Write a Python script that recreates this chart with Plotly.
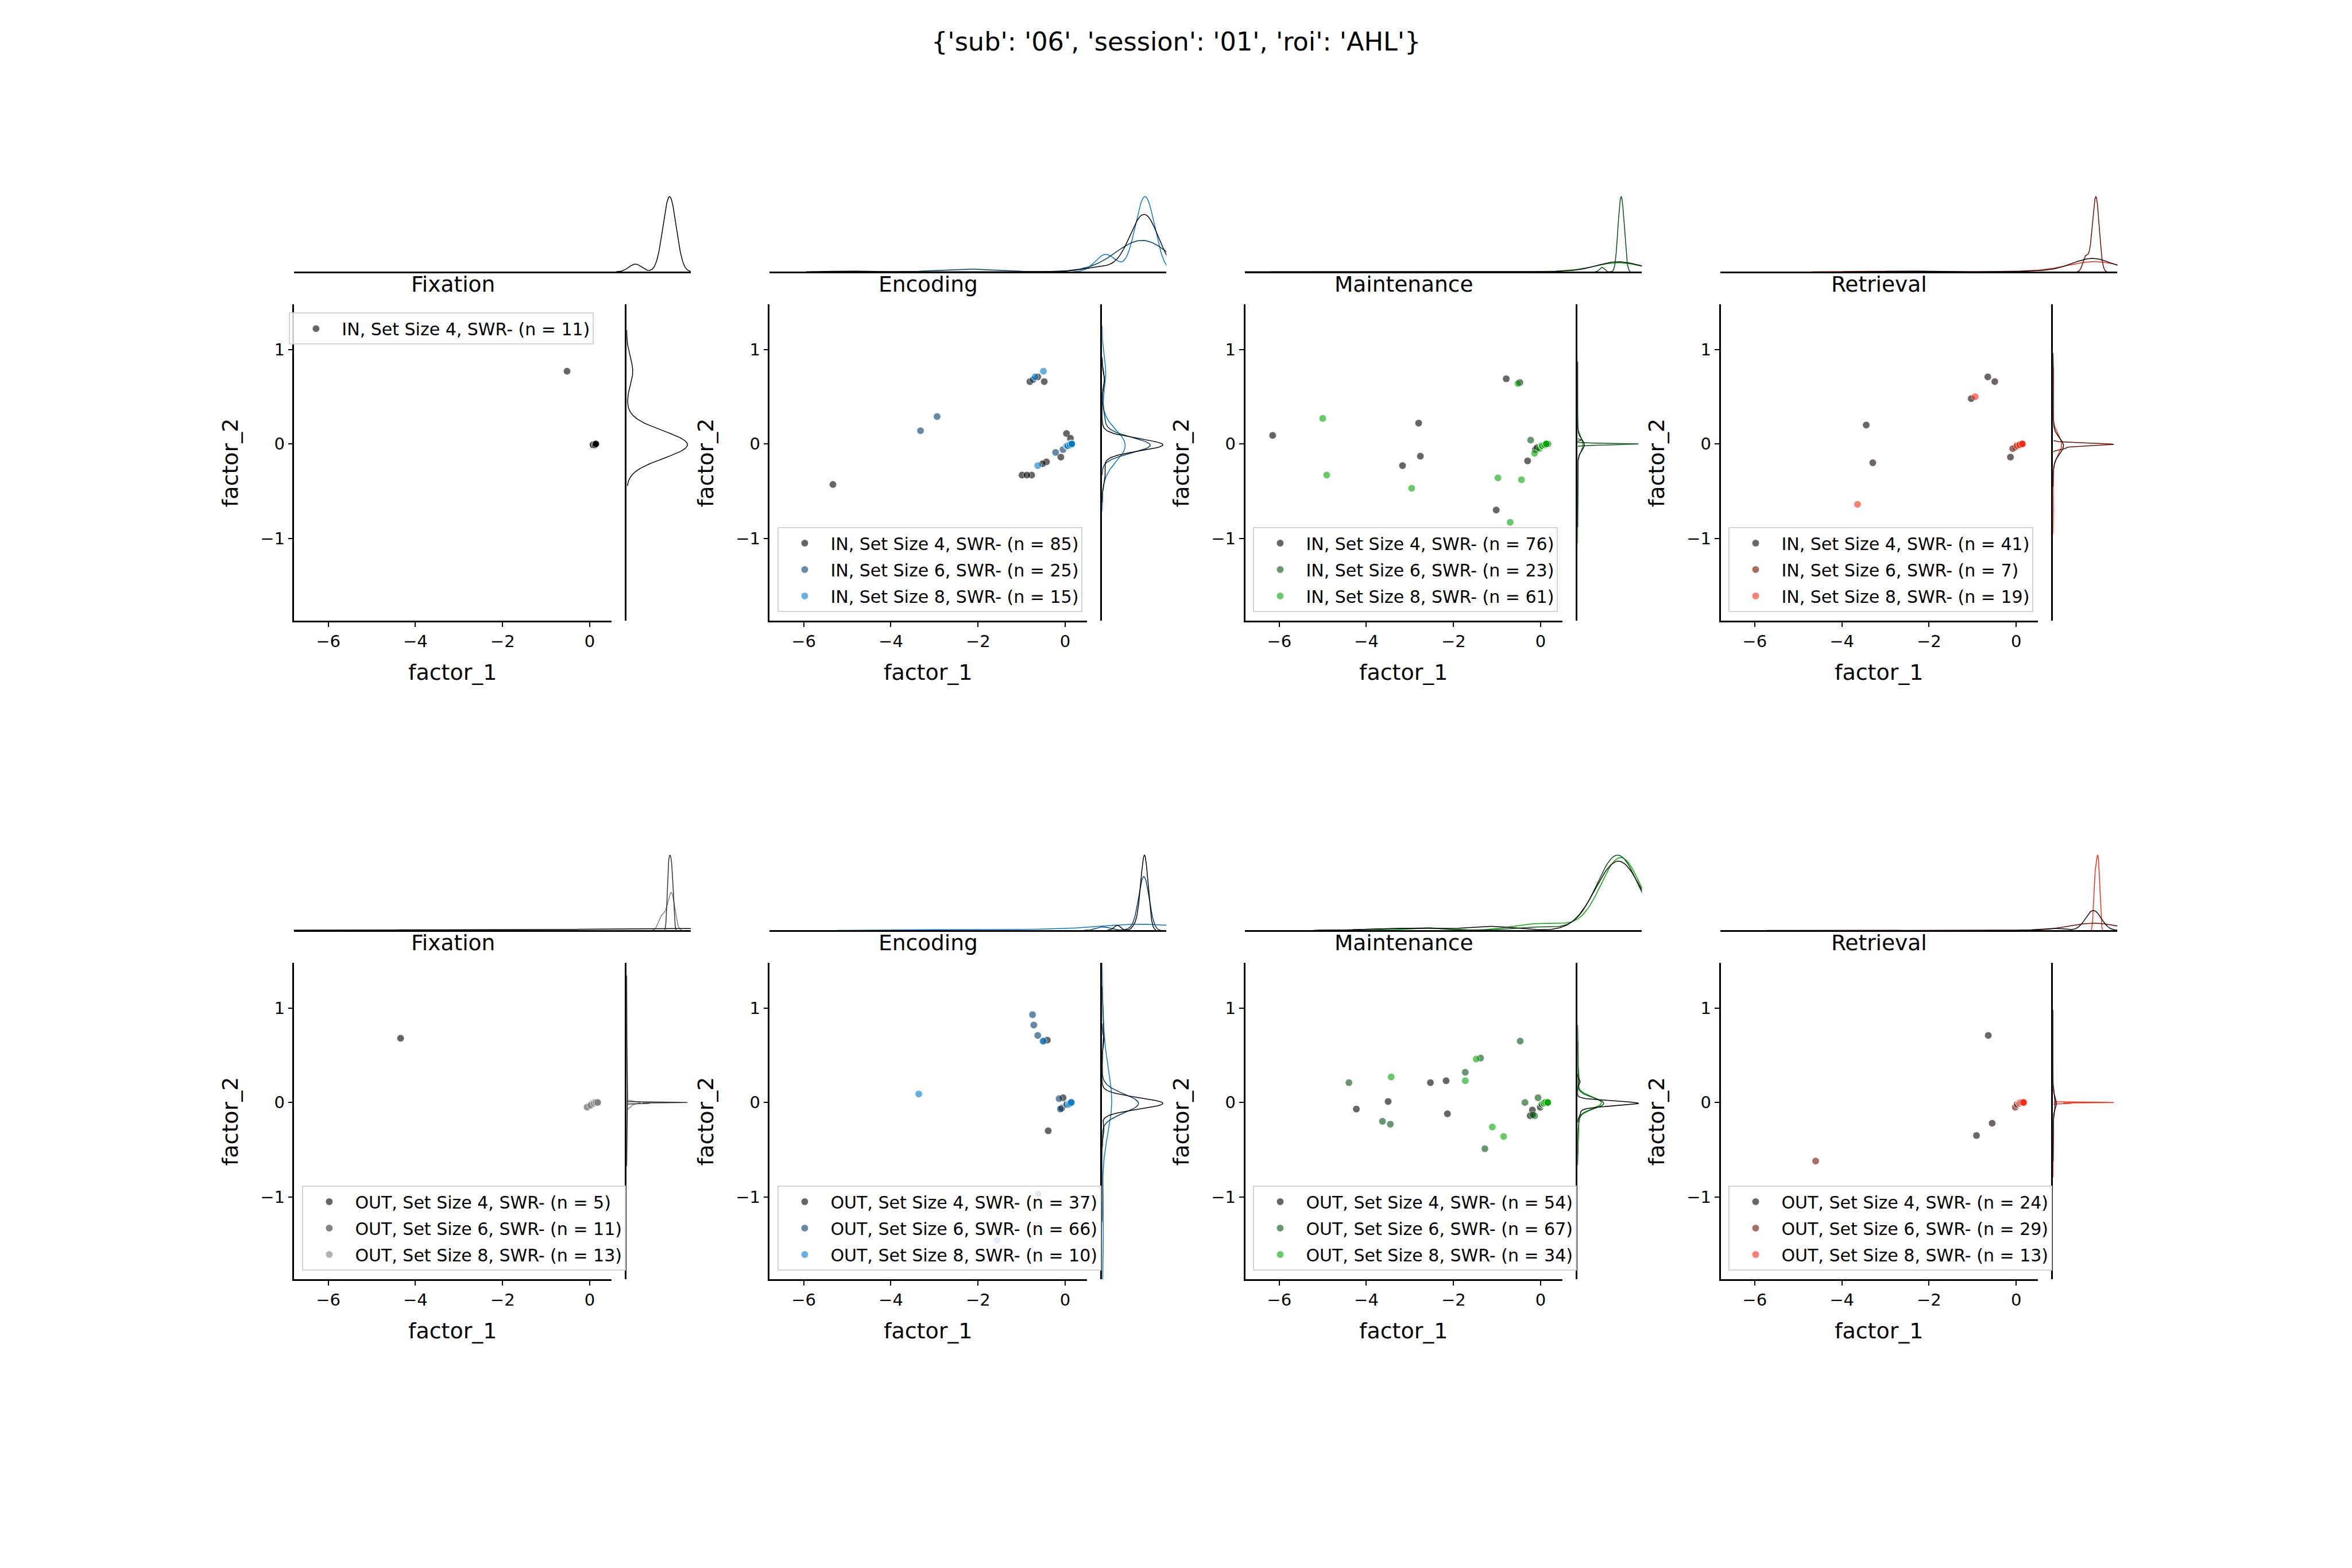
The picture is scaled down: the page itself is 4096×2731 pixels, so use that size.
import numpy as np
import plotly.graph_objects as go

# ---------------- chart text ----------------
SUPTITLE = "{'sub': '06', 'session': '01', 'roi': 'AHL'}"
PHASES = ["Fixation", "Encoding", "Maintenance", "Retrieval"]
LOCATIONS = ["IN", "OUT"]
SET_SIZES = [4, 6, 8]
X_LABEL = "factor_1"
Y_LABEL = "factor_2"
X_TICKS = [-6, -4, -2, 0]
X_TICK_TEXT = ["\u22126", "\u22124", "\u22122", "0"]
Y_TICKS = [-1, 0, 1]
Y_TICK_TEXT = ["\u22121", "0", "1"]
X_RANGE = [-6.78, 0.50]
Y_RANGE = [-1.875, 1.48]

# ---------------- data (x, y, count of overlapping points) ----------------
# IN - Fixation
IN_FIX_4_X = [-0.52, 0.08, 0.12, 0.14]
IN_FIX_4_Y = [0.77, -0.01, -0.01, 0.0]
IN_FIX_4_N = [1, 4, 4, 2]

# IN - Encoding
IN_ENC_4_X = [-5.33, -0.81, -0.48, -0.63, -0.99, -0.77, -0.88, -0.43, -0.52, -0.10, 0.03, 0.12, 0.05, 0.10, 0.14]
IN_ENC_4_Y = [-0.43, 0.66, 0.66, 0.71, -0.33, -0.33, -0.33, -0.19, -0.21, -0.14, 0.11, 0.06, -0.02, -0.01, 0.0]
IN_ENC_4_N = [1, 1, 1, 1, 1, 1, 1, 1, 1, 1, 1, 1, 25, 26, 22]
IN_ENC_6_X = [-3.32, -2.94, -0.74, -0.22, -0.05, 0.04, 0.08, 0.12]
IN_ENC_6_Y = [0.14, 0.29, 0.68, -0.09, -0.06, -0.02, -0.01, 0.0]
IN_ENC_6_N = [1, 1, 1, 1, 1, 7, 7, 6]
IN_ENC_8_X = [-0.50, -0.69, -0.63, 0.06, 0.11, 0.15]
IN_ENC_8_Y = [0.77, 0.71, -0.23, -0.02, -0.01, 0.0]
IN_ENC_8_N = [1, 1, 1, 4, 4, 4]

# IN - Maintenance
IN_MAI_4_X = [-6.15, -2.80, -2.76, -3.17, -0.79, -0.48, -1.02, -0.30, -0.12, -0.08, 0.02, 0.08, 0.14]
IN_MAI_4_Y = [0.09, 0.22, -0.13, -0.23, 0.69, 0.65, -0.70, -0.18, -0.06, -0.04, -0.02, -0.01, 0.0]
IN_MAI_4_N = [1, 1, 1, 1, 1, 1, 1, 1, 1, 1, 20, 24, 22]
IN_MAI_6_X = [-0.23, 0.08, 0.12, 0.16]
IN_MAI_6_Y = [0.04, -0.01, 0.0, 0.0]
IN_MAI_6_N = [1, 7, 8, 7]
IN_MAI_8_X = [-5.00, -4.91, -2.96, -0.98, -0.44, -0.70, -0.52, -0.14, -0.03, 0.04, 0.09, 0.13]
IN_MAI_8_Y = [0.27, -0.33, -0.47, -0.36, -0.38, -0.83, 0.64, -0.10, -0.05, -0.02, -0.01, 0.0]
IN_MAI_8_N = [1, 1, 1, 1, 1, 1, 1, 1, 1, 16, 18, 18]

# IN - Retrieval
IN_RET_4_X = [-3.44, -3.29, -1.03, -0.65, -0.49, -0.13, 0.0, 0.05, 0.10]
IN_RET_4_Y = [0.20, -0.20, 0.48, 0.71, 0.66, -0.14, -0.03, -0.02, -0.01]
IN_RET_4_N = [1, 1, 1, 1, 1, 1, 10, 13, 12]
IN_RET_6_X = [-0.08, 0.04, 0.09, 0.12, 0.15]
IN_RET_6_Y = [-0.05, -0.02, -0.01, 0.0, 0.0]
IN_RET_6_N = [1, 1, 2, 2, 1]
IN_RET_8_X = [-0.94, -3.64, 0.02, 0.08, 0.14]
IN_RET_8_Y = [0.50, -0.64, -0.02, -0.01, 0.0]
IN_RET_8_N = [1, 1, 5, 6, 6]

# OUT - Fixation
OUT_FIX_4_X = [-4.34, 0.06, 0.10, 0.13, 0.16]
OUT_FIX_4_Y = [0.68, -0.01, 0.0, 0.0, 0.0]
OUT_FIX_4_N = [1, 1, 1, 1, 1]
OUT_FIX_6_X = [0.08, 0.11, 0.14, 0.17]
OUT_FIX_6_Y = [-0.01, 0.0, 0.0, 0.0]
OUT_FIX_6_N = [3, 3, 3, 2]
OUT_FIX_8_X = [-0.06, 0.02, 0.10, 0.14, 0.18]
OUT_FIX_8_Y = [-0.05, -0.03, -0.01, 0.0, 0.0]
OUT_FIX_8_N = [2, 2, 3, 3, 3]

# OUT - Encoding
OUT_ENC_4_X = [-0.41, -0.39, -0.05, -0.08, 0.05, 0.10, 0.13]
OUT_ENC_4_Y = [0.66, -0.30, 0.05, -0.06, -0.02, -0.01, 0.0]
OUT_ENC_4_N = [1, 1, 1, 1, 10, 12, 11]
OUT_ENC_6_X = [-0.75, -0.72, -0.63, -0.51, -0.14, -0.11, -0.62, 0.04, 0.09, 0.13]
OUT_ENC_6_Y = [0.93, 0.82, 0.71, 0.65, 0.04, -0.07, -0.97, -0.02, -0.01, 0.0]
OUT_ENC_6_N = [1, 1, 1, 1, 1, 1, 1, 20, 20, 19]
OUT_ENC_8_X = [-3.36, -0.50, -1.56, 0.08, 0.11, 0.14]
OUT_ENC_8_Y = [0.09, 0.65, -1.46, -0.02, -0.01, 0.0]
OUT_ENC_8_N = [1, 1, 1, 2, 3, 2]

# OUT - Maintenance
OUT_MAI_4_X = [-4.23, -3.50, -2.53, -2.17, -2.14, -0.19, -0.24, -0.01, 0.04, 0.08, 0.12]
OUT_MAI_4_Y = [-0.07, 0.01, 0.21, 0.23, -0.12, -0.08, -0.14, -0.05, -0.02, -0.01, 0.0]
OUT_MAI_4_N = [1, 1, 1, 1, 1, 1, 1, 1, 15, 16, 15]
OUT_MAI_6_X = [-4.40, -3.63, -3.45, -1.73, -1.38, -1.28, -0.47, -0.36, -0.06, -0.14, -0.18, 0.03, 0.07, 0.11]
OUT_MAI_6_Y = [0.21, -0.20, -0.23, 0.32, 0.47, -0.49, 0.65, 0.0, 0.05, -0.14, -0.13, -0.02, -0.01, 0.0]
OUT_MAI_6_N = [1, 1, 1, 1, 1, 1, 1, 1, 1, 1, 1, 18, 19, 19]
OUT_MAI_8_X = [-3.43, -1.48, -1.73, -1.11, -0.85, 0.07, 0.11, 0.16]
OUT_MAI_8_Y = [0.27, 0.46, 0.23, -0.26, -0.36, -0.01, 0.0, 0.0]
OUT_MAI_8_N = [1, 1, 1, 1, 1, 10, 10, 9]

# OUT - Retrieval
OUT_RET_4_X = [-0.64, -0.55, -0.91, 0.02, 0.06, 0.10]
OUT_RET_4_Y = [0.71, -0.22, -0.35, -0.02, -0.01, 0.0]
OUT_RET_4_N = [1, 1, 1, 7, 7, 7]
OUT_RET_6_X = [-4.60, -0.02, 0.03, 0.07, 0.11]
OUT_RET_6_Y = [-0.62, -0.05, -0.02, -0.01, 0.0]
OUT_RET_6_N = [1, 1, 9, 9, 9]
OUT_RET_8_X = [0.08, 0.11, 0.14, 0.17]
OUT_RET_8_Y = [-0.01, 0.0, 0.0, 0.0]
OUT_RET_8_N = [3, 3, 4, 3]

DATA = {
    ("IN", "Fixation"): [(4, IN_FIX_4_X, IN_FIX_4_Y, IN_FIX_4_N)],
    ("IN", "Encoding"): [(4, IN_ENC_4_X, IN_ENC_4_Y, IN_ENC_4_N),
                         (6, IN_ENC_6_X, IN_ENC_6_Y, IN_ENC_6_N),
                         (8, IN_ENC_8_X, IN_ENC_8_Y, IN_ENC_8_N)],
    ("IN", "Maintenance"): [(4, IN_MAI_4_X, IN_MAI_4_Y, IN_MAI_4_N),
                            (6, IN_MAI_6_X, IN_MAI_6_Y, IN_MAI_6_N),
                            (8, IN_MAI_8_X, IN_MAI_8_Y, IN_MAI_8_N)],
    ("IN", "Retrieval"): [(4, IN_RET_4_X, IN_RET_4_Y, IN_RET_4_N),
                          (6, IN_RET_6_X, IN_RET_6_Y, IN_RET_6_N),
                          (8, IN_RET_8_X, IN_RET_8_Y, IN_RET_8_N)],
    ("OUT", "Fixation"): [(4, OUT_FIX_4_X, OUT_FIX_4_Y, OUT_FIX_4_N),
                          (6, OUT_FIX_6_X, OUT_FIX_6_Y, OUT_FIX_6_N),
                          (8, OUT_FIX_8_X, OUT_FIX_8_Y, OUT_FIX_8_N)],
    ("OUT", "Encoding"): [(4, OUT_ENC_4_X, OUT_ENC_4_Y, OUT_ENC_4_N),
                          (6, OUT_ENC_6_X, OUT_ENC_6_Y, OUT_ENC_6_N),
                          (8, OUT_ENC_8_X, OUT_ENC_8_Y, OUT_ENC_8_N)],
    ("OUT", "Maintenance"): [(4, OUT_MAI_4_X, OUT_MAI_4_Y, OUT_MAI_4_N),
                             (6, OUT_MAI_6_X, OUT_MAI_6_Y, OUT_MAI_6_N),
                             (8, OUT_MAI_8_X, OUT_MAI_8_Y, OUT_MAI_8_N)],
    ("OUT", "Retrieval"): [(4, OUT_RET_4_X, OUT_RET_4_Y, OUT_RET_4_N),
                           (6, OUT_RET_6_X, OUT_RET_6_Y, OUT_RET_6_N),
                           (8, OUT_RET_8_X, OUT_RET_8_Y, OUT_RET_8_N)],
}

# ---------------- style ----------------
PHASE_COLORS = {
    "Fixation": ["#000000", "#303030", "#808080"],
    "Encoding": ["#000000", "#003c66", "#007acc"],
    "Maintenance": ["#000000", "#045010", "#00a800"],
    "Retrieval": ["#0d0000", "#6e0c02", "#fa2a14"],
}
FONT = "DejaVu Sans"
W, H = 4096, 2731
REF_W, REF_H = 4500.0, 3000.0
COL_STEP, ROW_STEP = 909.7, 1260.0
MARKER_SIZE = 12.5
TICK_FONT = 29


def xp(v):
    return v / REF_W


def yp(v):
    return 1 - v / REF_H


def rgba(hexc, a):
    h = hexc.lstrip("#")
    return "rgba(%d,%d,%d,%s)" % (int(h[0:2], 16), int(h[2:4], 16), int(h[4:6], 16), a)


def kde(vals, gridsize=200, cut=3):
    v = np.asarray(vals, dtype=float)
    n = v.size
    bw = v.std(ddof=1) * n ** (-1.0 / 5.0)
    g = np.linspace(v.min() - cut * bw, v.max() + cut * bw, gridsize)
    d = np.exp(-0.5 * ((g[:, None] - v[None, :]) / bw) ** 2).sum(axis=1) / (n * bw * np.sqrt(2 * np.pi))
    return g, d


fig = go.Figure()
lay = dict(
    width=W, height=H, margin=dict(l=0, r=0, t=0, b=0, pad=0),
    paper_bgcolor="white", plot_bgcolor="white",
    font=dict(family=FONT, color="black"), showlegend=True,
)
annotations = []

for r, loc in enumerate(LOCATIONS):
    for c, ph in enumerate(PHASES):
        k = r * 4 + c
        dx, dy = COL_STEP * c, ROW_STEP * r
        nums = [3 * k + 1, 3 * k + 2, 3 * k + 3]
        xn = ["x" if i == 1 else "x%d" % i for i in nums]
        yn = ["y" if i == 1 else "y%d" % i for i in nums]
        xk = ["xaxis" if i == 1 else "xaxis%d" % i for i in nums]
        yk = ["yaxis" if i == 1 else "yaxis%d" % i for i in nums]
        leg = "legend" if k == 0 else "legend%d" % (k + 1)
        groups = DATA[(loc, ph)]
        cols = PHASE_COLORS[ph]

        # scatter
        for (s, X, Y, N) in groups:
            col = cols[SET_SIZES.index(s)]
            xs = np.repeat(np.asarray(X, float), N)
            ys = np.repeat(np.asarray(Y, float), N)
            fig.add_trace(go.Scatter(
                x=xs, y=ys, mode="markers", xaxis=xn[0], yaxis=yn[0],
                name="%s, Set Size %d, SWR- (n = %d)" % (loc, s, int(np.sum(N))),
                legend=leg, legendgroup="g%d_%d" % (k, s),
                marker=dict(size=MARKER_SIZE, color=rgba(col, 0.6), line=dict(color="white", width=0.6)),
                hoverinfo="skip",
            ))

        # marginal KDEs
        topmax, rightmax = 0.0, 0.0
        for (s, X, Y, N) in reversed(groups):
            col = cols[SET_SIZES.index(s)]
            xs = np.repeat(np.asarray(X, float), N)
            ys = np.repeat(np.asarray(Y, float), N)
            gx, dxv = kde(xs)
            gy, dyv = kde(ys)
            topmax = max(topmax, dxv.max())
            rightmax = max(rightmax, dyv.max())
            fig.add_trace(go.Scatter(x=gx, y=dxv, mode="lines", xaxis=xn[1], yaxis=yn[1],
                                     line=dict(color=col, width=1.5), showlegend=False, hoverinfo="skip"))
            fig.add_trace(go.Scatter(x=dyv, y=gy, mode="lines", xaxis=xn[2], yaxis=yn[2],
                                     line=dict(color=col, width=1.5), showlegend=False, hoverinfo="skip"))

        main_y_dom = [yp(1188 + dy), yp(582 + dy)]
        lay[xk[0]] = dict(
            domain=[xp(563 + dx), xp(1170 + dx)], anchor=yn[0], range=X_RANGE,
            tickmode="array", tickvals=X_TICKS, ticktext=X_TICK_TEXT,
            ticks="outside", ticklen=8, tickwidth=2, tickcolor="black",
            showline=True, linecolor="black", linewidth=2.5,
            showgrid=False, zeroline=False, tickfont=dict(size=TICK_FONT, family=FONT, color="black"),
        )
        lay[yk[0]] = dict(
            domain=main_y_dom, anchor=xn[0], range=Y_RANGE,
            tickmode="array", tickvals=Y_TICKS, ticktext=Y_TICK_TEXT,
            ticks="outside", ticklen=8, tickwidth=2, tickcolor="black",
            showline=True, linecolor="black", linewidth=2.5,
            showgrid=False, zeroline=False, tickfont=dict(size=TICK_FONT, family=FONT, color="black"),
        )
        lay[xk[1]] = dict(
            domain=[xp(562 + dx), xp(1322 + dx)], anchor=yn[1], range=X_RANGE,
            showline=True, linecolor="black", linewidth=2.5, ticks="",
            showticklabels=False, showgrid=False, zeroline=False,
        )
        lay[yk[1]] = dict(
            domain=[yp(520 + dy), yp(369 + dy)], anchor=xn[1], range=[0, 1.05 * topmax],
            visible=False, showgrid=False, zeroline=False,
        )
        lay[xk[2]] = dict(
            domain=[xp(1199 + dx), xp(1321 + dx)], anchor=yn[2], range=[0, 1.05 * rightmax],
            visible=False, showgrid=False, zeroline=False,
        )
        lay[yk[2]] = dict(
            domain=main_y_dom, anchor=xn[2], range=Y_RANGE,
            showline=True, linecolor="black", linewidth=2.5, ticks="",
            showticklabels=False, showgrid=False, zeroline=False,
        )

        # legend
        if k == 0:
            lx, ly, ya = 553 + dx, 598 + dy, "top"
        else:
            lx, ly, ya = 1488 - 909.7 + dx, 1171 + dy, "bottom"
        lay[leg] = dict(
            x=xp(lx), y=yp(ly), xref="paper", yref="paper", xanchor="left", yanchor=ya,
            bgcolor="rgba(255,255,255,0.8)", bordercolor="#d3d3d3", borderwidth=2,
            font=dict(size=30, family=FONT, color="black"),
            itemwidth=80, tracegroupgap=4, orientation="v",
        )

        # texts
        cx = 866.5 + dx
        annotations.append(dict(text=ph, x=xp(cx), y=yp(543.5 + dy), xref="paper", yref="paper",
                                xanchor="center", yanchor="middle", showarrow=False,
                                font=dict(size=37.5, family=FONT, color="black")))
        annotations.append(dict(text=X_LABEL, x=xp(cx), y=yp(1286.5 + dy), xref="paper", yref="paper",
                                xanchor="center", yanchor="middle", showarrow=False,
                                font=dict(size=38, family=FONT, color="black")))
        annotations.append(dict(text=Y_LABEL, x=xp(440 + dx), y=yp(885 + dy), xref="paper", yref="paper",
                                xanchor="center", yanchor="middle", showarrow=False, textangle=-90,
                                font=dict(size=38, family=FONT, color="black")))

annotations.append(dict(text=SUPTITLE, x=0.5, y=yp(80), xref="paper", yref="paper",
                        xanchor="center", yanchor="middle", showarrow=False,
                        font=dict(size=44.6, family=FONT, color="black")))
lay["annotations"] = annotations
fig.update_layout(**lay)
fig.write_html("out.html")
